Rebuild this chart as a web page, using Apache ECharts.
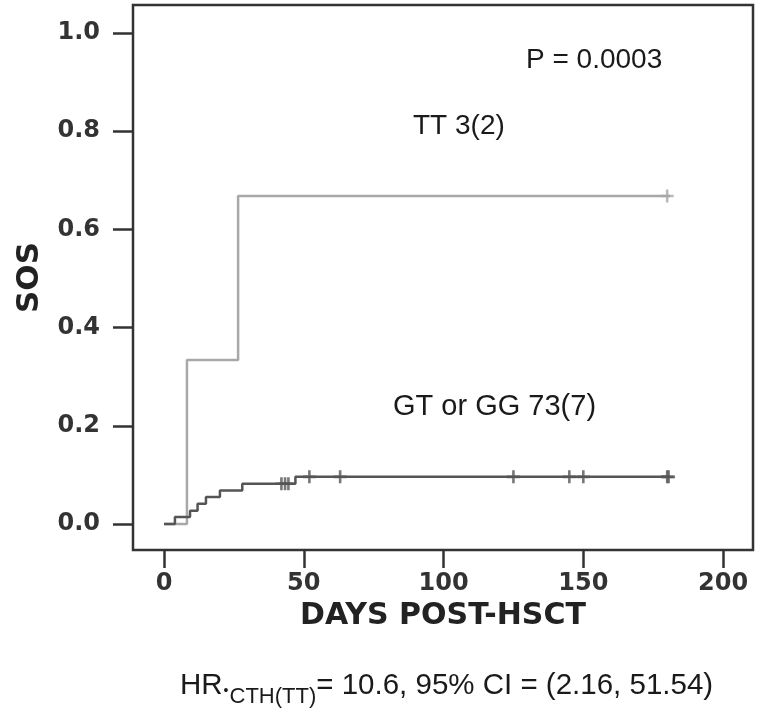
<!DOCTYPE html>
<html>
<head>
<meta charset="utf-8">
<script src="https://cdn.jsdelivr.net/npm/echarts@6/dist/echarts.min.js"></script>
<style>
  html, body { margin: 0; padding: 0; background: #fff; }
  #chart { width: 761px; height: 720px; }
</style>
</head>
<body>
<div id="chart"></div>
<script>
// TT group: step curve [day, cumulative incidence]
const ttTimes = [0, 8.2, 26.5, 181];
const ttValues = [0, 0.334, 0.668, 0.668];
const ttCensorTimes = [180];
const ttCensorValues = [0.668];

// GT or GG group
const gtTimes = [0, 3.9, 9.3, 12, 15, 20, 28, 47, 181];
const gtValues = [0, 0.014, 0.027, 0.041, 0.055, 0.068, 0.082, 0.096, 0.096];
const gtCensorTimes = [42, 43.3, 44.5, 52, 63, 125, 145, 150, 180, 180.5];
const gtCensorValues = [0.082, 0.082, 0.082, 0.096, 0.096, 0.096, 0.096, 0.096, 0.096, 0.096];

const xTicks = [0, 50, 100, 150, 200];
const yTicks = [0, 0.2, 0.4, 0.6, 0.8, 1.0];

const plusPath = 'path://M4,0 H6 V4 H10 V6 H6 V10 H4 V6 H0 V4 H4 Z';

function zip(a, b) {
    return a.map((v, i) => [v, b[i]]);
}

const chart = echarts.init(document.getElementById('chart'));

const boldFont = 'DejaVu Sans';
const textFont = 'Liberation Sans';

chart.setOption({
    animation: false,
    grid: {
        left: 133,
        right: 8,
        top: 5,
        bottom: 170,
        show: true,
        borderColor: '#333',
        borderWidth: 2.5
    },
    xAxis: {
        type: 'value',
        min: -11.1,
        max: 210.7,
        splitLine: { show: false },
        axisLine: { show: false, onZero: false },
        axisTick: {
            show: true,
            inside: false,
            length: 18,
            lineStyle: { color: '#333', width: 2.5 },
            customValues: xTicks
        },
        axisLabel: {
            margin: 22,
            fontFamily: boldFont,
            fontWeight: 'bold',
            fontSize: 24,
            color: '#333',
            customValues: xTicks
        },
        name: 'DAYS POST-HSCT',
        nameLocation: 'middle',
        nameGap: 50,
        nameTextStyle: {
            fontFamily: boldFont,
            fontWeight: 'bold',
            fontSize: 30,
            color: '#222'
        }
    },
    yAxis: {
        type: 'value',
        min: -0.053,
        max: 1.057,
        splitLine: { show: false },
        axisLine: { show: false, onZero: false },
        axisTick: {
            show: true,
            length: 20,
            lineStyle: { color: '#333', width: 2.5 },
            customValues: yTicks
        },
        axisLabel: {
            margin: 33,
            fontFamily: boldFont,
            fontWeight: 'bold',
            fontSize: 24,
            color: '#333',
            formatter: v => v.toFixed(1),
            customValues: yTicks
        },
        name: 'SOS',
        nameLocation: 'middle',
        nameGap: 88,
        nameTextStyle: {
            fontFamily: boldFont,
            fontWeight: 'bold',
            fontSize: 31,
            color: '#222'
        }
    },
    series: [
        {
            name: 'TT',
            type: 'line',
            step: 'end',
            data: zip(ttTimes, ttValues),
            showSymbol: false,
            lineStyle: { color: '#a8a8a8', width: 2.5 },
            z: 2
        },
        {
            name: 'GT or GG',
            type: 'line',
            step: 'end',
            data: zip(gtTimes, gtValues),
            showSymbol: false,
            lineStyle: { color: '#555', width: 2.5 },
            z: 3
        },
        {
            type: 'scatter',
            data: zip(ttCensorTimes, ttCensorValues),
            symbol: plusPath,
            symbolSize: 13,
            itemStyle: { color: '#a8a8a8' },
            z: 4
        },
        {
            type: 'scatter',
            data: zip(gtCensorTimes, gtCensorValues),
            symbol: plusPath,
            symbolSize: 13,
            itemStyle: { color: '#555' },
            z: 5
        }
    ],
    graphic: [
        {
            type: 'text',
            left: 526,
            top: 46,
            style: { text: 'P = 0.0003', fontFamily: textFont, fontSize: 28, fill: '#1a1a1a' }
        },
        {
            type: 'text',
            left: 413,
            top: 112,
            style: { text: 'TT 3(2)', fontFamily: textFont, fontSize: 28, fill: '#1a1a1a' }
        },
        {
            type: 'text',
            left: 393,
            top: 392,
            style: { text: 'GT or GG 73(7)', fontFamily: textFont, fontSize: 29, fill: '#1a1a1a' }
        },
        {
            type: 'text',
            left: 180,
            top: 671,
            style: {
                text: '{a|HR}{d|•}{s|CTH(TT)}{a|= 10.6, 95% CI = (2.16, 51.54)}',
                rich: {
                    a: { fontFamily: textFont, fontSize: 29.5, fill: '#1a1a1a', lineHeight: 36, verticalAlign: 'top' },
                    d: { fontFamily: textFont, fontSize: 14, fill: '#1a1a1a', lineHeight: 36, verticalAlign: 'top', padding: [13, 1, 0, 1] },
                    s: { fontFamily: textFont, fontSize: 22, fill: '#1a1a1a', lineHeight: 36, verticalAlign: 'top', padding: [15, 0, 0, 0] }
                }
            }
        }
    ]
});
</script>
</body>
</html>
